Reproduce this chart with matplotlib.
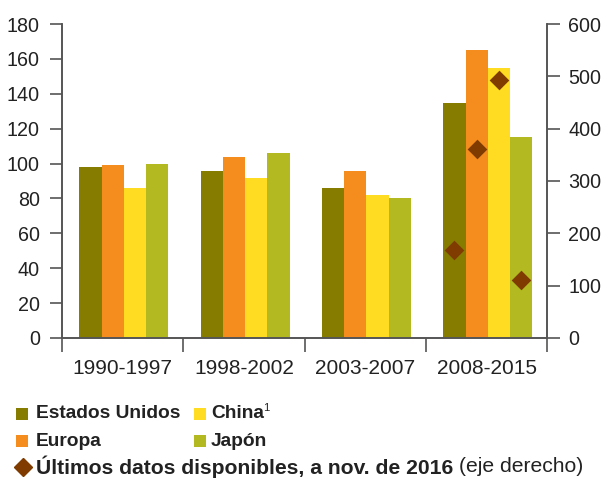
import numpy as np
import matplotlib.pyplot as plt
from matplotlib.patches import Rectangle
from matplotlib.lines import Line2D

plt.rcParams['font.family'] = ['Liberation Sans', 'DejaVu Sans']

periods = ['1990-1997', '1998-2002', '2003-2007', '2008-2015']
series = ['Estados Unidos', 'Europa', 'China', 'Japón']
us = [98, 96, 86, 135]
europe = [99, 104, 96, 165]
china = [86, 92, 82, 155]
japan = [100, 106, 80, 115]
latest_2016 = [168, 362, 494, 110]   # right axis, last group only

colors = ['#857c00', '#f48c1e', '#ffdb21', '#b3ba21']
diamond_color = '#7f3b00'
axis_color = '#555555'
text_color = '#222222'

fig = plt.figure(figsize=(6.02, 4.82), dpi=100)
ax = fig.add_axes([0.103, 0.299, 0.806, 0.651])
ax2 = ax.twinx()

x = np.arange(len(periods))
w = 0.183
for i, vals in enumerate([us, europe, china, japan]):
    ax.bar(x + (i - 1.5) * w + 0.01, vals, width=w, color=colors[i], linewidth=0)

ax2.scatter(x[-1] + (np.arange(4) - 1.5) * w + 0.01, latest_2016, marker='D',
            s=100, color=diamond_color, zorder=5, linewidths=0)

ax.set_xlim(-0.5, len(periods) - 0.5)
ax.set_ylim(0, 180)
ax2.set_ylim(0, 600)
ax.set_yticks(range(0, 181, 20))
ax2.set_yticks(range(0, 601, 100))

ax.set_xticks(np.arange(-0.5, len(periods)), labels=[''] * (len(periods) + 1))
ax.set_xticks(x, labels=periods, minor=True)
ax.tick_params(axis='x', which='major', length=10, width=1.2, color=axis_color, direction='out')
ax.tick_params(axis='x', which='minor', length=0, pad=15, labelsize=15, labelcolor=text_color)
ax.tick_params(axis='y', length=9, width=1.2, color=axis_color, pad=7,
               labelsize=14.2, labelcolor=text_color)
ax2.tick_params(axis='y', length=9, width=1.2, color=axis_color, pad=6,
                labelsize=14.2, labelcolor=text_color)

for a in (ax, ax2):
    a.spines['top'].set_visible(False)
    for s in ('left', 'right', 'bottom'):
        a.spines[s].set_color(axis_color)
        a.spines[s].set_linewidth(1.2)

# legend drawn by hand so the last entry can mix bold and regular text
def square(xp, yp, c):
    fig.patches.append(Rectangle((xp / 602, 1 - (yp + 6) / 482), 12 / 602, 12 / 482,
                                 transform=fig.transFigure, color=c, linewidth=0))

def label(xp, yp, s, bold=True, size=13.8):
    return fig.text(xp / 602, 1 - yp / 482, s, fontsize=size, color=text_color,
                    fontweight='bold' if bold else 'normal', va='center')

rows = [414, 441, 467]
square(16, rows[0], colors[0]); label(36, rows[0], series[0])
square(16, rows[1], colors[1]); label(36, rows[1], series[1])
square(194, rows[0], colors[2]); china_txt = label(211, rows[0], series[2])
square(194, rows[1], colors[3]); label(211, rows[1], series[3])
fig.lines.append(Line2D([23 / 602], [1 - rows[2] / 482], marker='D', markersize=9.5,
                        color=diamond_color, linewidth=0, transform=fig.transFigure))
bold_part = label(36, rows[2], 'Últimos datos disponibles, a nov. de 2016', size=15.2)
fig.canvas.draw()
cb = china_txt.get_window_extent()
fig.text(cb.x1 / fig.bbox.width - 1 / 602, 1 - 408 / 482, '1', fontsize=8,
         color=text_color, va='center')
bb = bold_part.get_window_extent()
fig.text(bb.x1 / fig.bbox.width + 6 / 602, 1 - rows[2] / 482, '(eje derecho)',
         fontsize=15.2, color=text_color, va='center')

fig.savefig('out.png', dpi=100)
